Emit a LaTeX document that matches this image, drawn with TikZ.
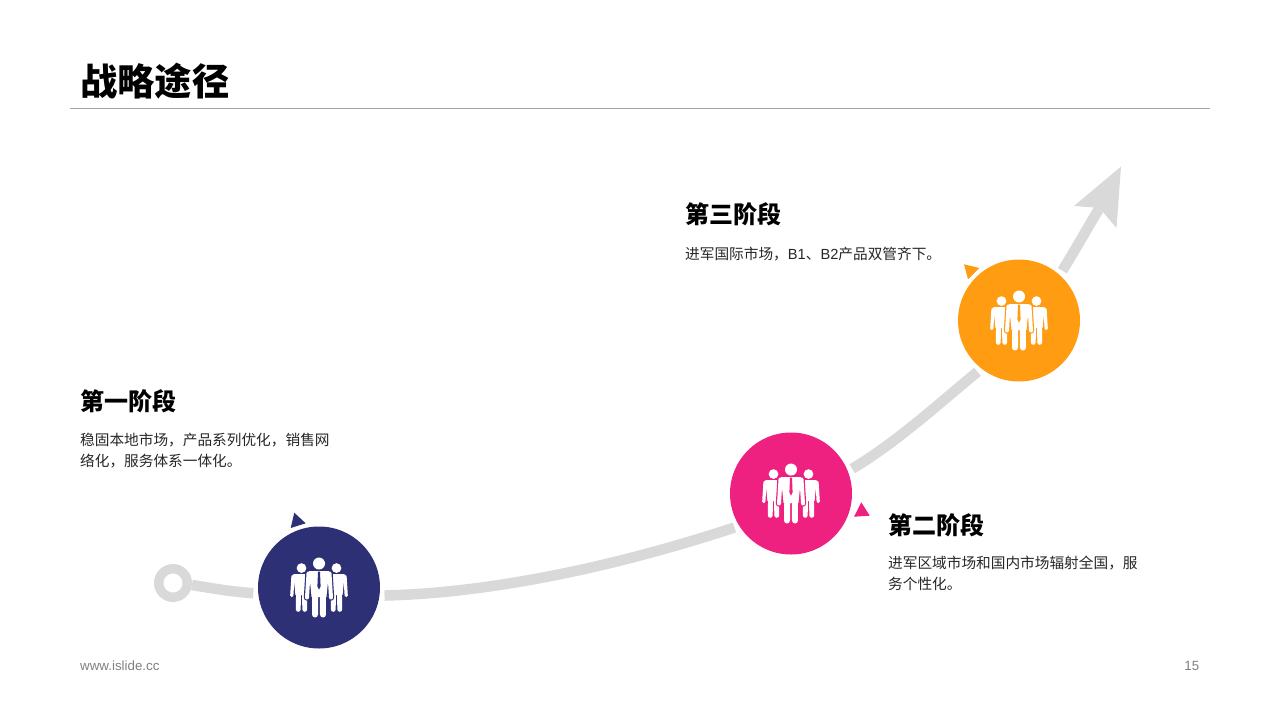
\documentclass[tikz,border=0pt]{standalone}
\usepackage{fontspec}
\setmainfont{Liberation Sans}
\newfontfamily\cjk{Noto Sans CJK SC}
\definecolor{road}{HTML}{D9D9D9}
\definecolor{rulegray}{HTML}{A6A6A6}
\definecolor{footgray}{HTML}{7F7F7F}
\definecolor{bodyink}{HTML}{262626}
\definecolor{navy}{HTML}{2E3076}
\definecolor{rose}{HTML}{EE2080}
\definecolor{amber}{HTML}{FF9C12}
\tikzset{>=latex}
\tikzset{
	stage/.style={circle,fill=#1,minimum size=122pt,inner sep=0pt,outer sep=5pt},
	roadline/.style={draw=road,line width=10.5pt},
	headtext/.style={anchor=west,inner sep=0pt,font=\cjk\fontsize{24}{28}\selectfont\bfseries},
	bodytext/.style={anchor=north west,inner sep=0pt,align=left,text=bodyink,font=\fontsize{14.67}{21}\selectfont},
	foottext/.style={inner sep=0pt,text=footgray,font=\fontsize{13.33}{15}\selectfont},
	people/.pic={
		\foreach \px/\ps in {-17.5/.81,17.5/.81,0/1}{
			\begin{scope}[shift={(\px,0)},scale=\ps]
				\foreach \pc/\pw in {#1/2.4,white/0}{
					\fill[\pc] (0,-24) circle (6+\pw/2);
					\draw[\pc,fill=\pc,line join=round,line width=\ps*(1+\pw)*1pt] (-9.5,-16) -- (9.5,-16) -- (7,9) -- (-7,9) -- cycle;
					\draw[\pc,line cap=round,line width=\ps*(6+\pw)*1pt] (-3.7,6) -- (-4,27) (3.7,6) -- (4,27);
					\draw[\pc,line cap=round,line width=\ps*(4+\pw)*1pt] (-10.5,-14) -- (-12,10) (10.5,-14) -- (12,10);
				}
			\end{scope}
		}
		\fill[#1] (-1,-16) -- (1,-16) -- (1.6,-1) -- (0,2) -- (-1.6,-1) -- cycle;
	}
}
\begin{document}
\begin{tikzpicture}[x=1pt,y=-1pt]
	\useasboundingbox (0,0) rectangle (1280,720);
	
	\node[headtext,font=\cjk\fontsize{37.3}{40}\selectfont\bfseries] (title) at (80,81) {战略途径};
	\coordinate (ruleL) at (70,108);
	\coordinate (ruleR) at (1210,108);
	\draw[rulegray,line width=.8pt] (ruleL) -- (ruleR);
	
	\node[circle,draw=road,line width=9.5pt,minimum size=28.5pt,inner sep=0pt] (start) at (173,583) {};
	\node[stage=navy] (stageA) at (319,587.5) {};
	\node[stage=rose] (stageB) at (791,493.5) {};
	\node[stage=amber] (stageC) at (1019,320.5) {};
	
	% road between the stages, arrow head at the end
	\coordinate (notch) at (1098.5,209.5);
	\draw[roadline] (start.-6) .. controls +(25,4) and +(-25,-2) .. (stageA.185);
	\draw[roadline] (stageA.-7) .. controls +(120,-3) and +(-100,33) .. (stageB.211);
	\draw[roadline] (stageB.22) .. controls +(45,-27) and +(-40,33) .. (stageC.231);
	\draw[roadline] (stageC.49) .. controls +(10,-16) and +(-10,17) .. (notch);
	\fill[road] (1121,166.5) -- (1074,206) -- (1094,207.5) -- (notch) -- (1103,212) -- (1116.5,228) -- cycle;
	
	\foreach \nm/\col in {stageA/navy,stageB/rose,stageC/amber}{
		\pic at (\nm.center) {people=\col};
	}
	
	\fill[navy] (294.3,512.7) -- (305.7,523.3) -- (290.7,528) -- cycle;
	\fill[rose] (861.3,502.3) -- (869.7,515.7) -- (854,516.7) -- cycle;
	\fill[amber] (964,264.3) -- (979.3,268) -- (968,279.3) -- cycle;
	
	\node[headtext] (headA) at (80,401) {第一阶段};
	\node[headtext] (headB) at (888,525) {第二阶段};
	\node[headtext] (headC) at (685,214) {第三阶段};
	\node[bodytext] (bodyA) at (80,433) {\cjk 稳固本地市场，产品系列优化，销售网\\\cjk 络化，服务体系一体化。};
	\node[bodytext] (bodyB) at (888,556) {\cjk 进军区域市场和国内市场辐射全国，服\\\cjk 务个性化。};
	\node[bodytext] (bodyC) at (685,247) {{\cjk 进军国际市场，}B1{\cjk 、}B2{\cjk 产品双管齐下。}};
	
	\node[foottext,anchor=west] (site) at (80,666) {www.islide.cc};
	\node[foottext,anchor=east] (page) at (1199.5,666) {15};
\end{tikzpicture}
\end{document}
